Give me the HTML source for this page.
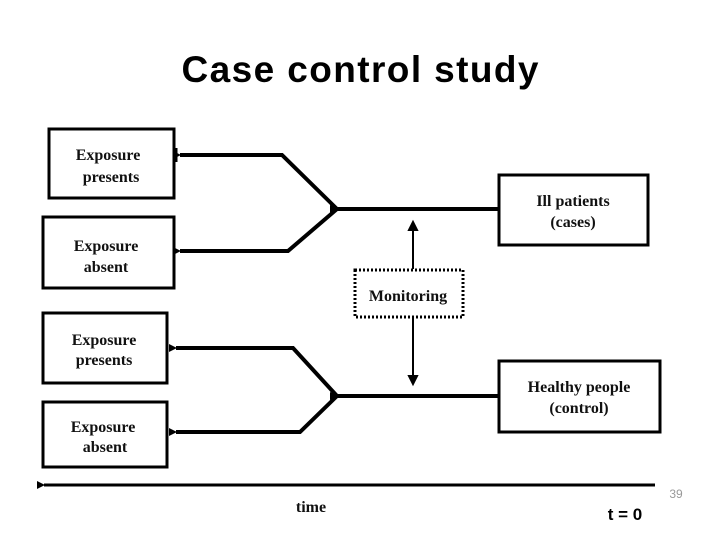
<!DOCTYPE html>
<html><head><meta charset="utf-8"><style>
html,body{margin:0;padding:0;background:#fff;}
svg{display:block;}
.s{font-family:"Liberation Serif",serif;font-weight:bold;font-size:16px;fill:#111;text-anchor:middle;}
</style></head><body>
<svg width="720" height="540" viewBox="0 0 720 540" xmlns="http://www.w3.org/2000/svg">
<defs>
<marker id="a" markerWidth="8" markerHeight="8" refX="1" refY="4" orient="auto" markerUnits="userSpaceOnUse">
<path d="M8,0 L0,4 L8,8 Z" fill="#000"/></marker>
</defs>
<text x="360" y="82" font-family="Liberation Sans,sans-serif" font-weight="bold" font-size="37" text-anchor="middle" textLength="357" fill="#000">Case control study</text>
<g fill="none" stroke="#000" stroke-width="3">
<rect x="49" y="129" width="125" height="69"/>
<rect x="43" y="217" width="131" height="71"/>
<rect x="43" y="313" width="124" height="70"/>
<rect x="43" y="402" width="124" height="65"/>
<rect x="499" y="175" width="149" height="70"/>
<rect x="499" y="361" width="161" height="71"/>
</g>
<rect x="355" y="270" width="108" height="47" fill="none" stroke="#000" stroke-width="3" stroke-dasharray="2,2"/>
<g fill="none" stroke="#000" stroke-width="4" stroke-linejoin="miter">
<polyline points="498,209 337,209" marker-end="url(#a)"/>
<polyline points="337,209 282,155 180,155" marker-end="url(#a)"/>
<polyline points="337,209 288,251 180,251" marker-end="url(#a)"/>
<polyline points="498,396 337,396" marker-end="url(#a)"/>
<polyline points="337,396 293,348 176,348" marker-end="url(#a)"/>
<polyline points="337,396 300,432 176,432" marker-end="url(#a)"/>
<polyline points="655,485 44,485" marker-end="url(#a)" stroke-width="3"/>
</g>
<line x1="176" y1="148" x2="176" y2="162" stroke="#000" stroke-width="3"/>
<g stroke="#000" stroke-width="2">
<line x1="413" y1="269" x2="413" y2="226"/>
<path d="M409,230 L413,222 L417,230 Z" fill="#000"/>
<line x1="413" y1="317" x2="413" y2="378"/>
<path d="M409,376 L413,384 L417,376 Z" fill="#000"/>
</g>
<text class="s" x="108" y="160">Exposure</text>
<text class="s" x="111" y="182">presents</text>
<text class="s" x="106" y="251">Exposure</text>
<text class="s" x="106" y="272">absent</text>
<text class="s" x="104" y="345">Exposure</text>
<text class="s" x="104" y="365">presents</text>
<text class="s" x="103" y="432">Exposure</text>
<text class="s" x="105" y="452">absent</text>
<text class="s" x="573" y="206">Ill patients</text>
<text class="s" x="573" y="227">(cases)</text>
<text class="s" x="579" y="392">Healthy people</text>
<text class="s" x="579" y="413">(control)</text>
<text class="s" x="408" y="301">Monitoring</text>
<text class="s" x="311" y="512">time</text>
<text x="625" y="520" font-family="Liberation Sans,sans-serif" font-weight="bold" font-size="17" text-anchor="middle" fill="#000">t = 0</text>
<text x="676" y="498" font-family="Liberation Sans,sans-serif" font-size="12" text-anchor="middle" fill="#999">39</text>
</svg>
</body></html>
